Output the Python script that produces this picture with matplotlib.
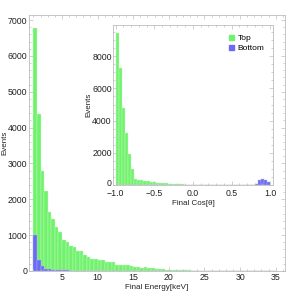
import numpy as np
import matplotlib
matplotlib.use('Agg')
import matplotlib.pyplot as plt
import matplotlib.transforms as mtrans
from matplotlib.ticker import MultipleLocator
from matplotlib.patches import Patch

plt.rcParams['font.family'] = ['Liberation Sans', 'DejaVu Sans']

# ---- data ----
# main histogram: final energy, 0.5 keV bins starting at 1 keV
energy_edges = np.arange(1.0, 35.01, 0.5)
energy_top = [6770, 4380, 2800, 2220, 1650, 1460, 1230, 1090, 860, 800,
              690, 660, 560, 560, 440, 400, 340, 340, 310, 310,
              260, 240, 240, 180, 165, 170, 160, 150, 110, 110,
              75, 100, 80, 70, 48, 45, 45, 30, 28, 25,
              25, 18, 15, 15, 12, 12, 10, 8, 8, 6,
              5, 4, 4, 3, 3, 2, 2, 1, 1, 1,
              0, 1, 0, 0, 0, 0, 0, 0]
energy_bottom = [1000, 320, 140, 65, 45, 35, 28, 22, 18, 14,
                 12, 10, 8, 7, 6, 5, 4, 3, 3, 2,
                 2, 1, 1] + [0] * 45

# inset histogram: final cos(theta), 0.04 bins from -1 to 1
cos_edges = np.linspace(-1.0, 1.0, 51)
cos_top = [9450, 7250, 4800, 3250, 1950, 970, 380, 330, 300, 270,
           230, 200, 180, 150, 130, 110, 95, 80, 65, 55,
           45, 35, 28, 20, 15, 12, 10, 8, 6, 5,
           4, 3, 3, 2, 2, 1] + [0] * 14
cos_bottom = [0] * 45 + [90, 280, 380, 340, 170]

green = '#70f26c'
blue = '#6a6af2'
frame = '#bdbdbd'
txt = '#222222'


def style_axes(ax, xmaj, xmin, ymaj, ymin):
    for s in ax.spines.values():
        s.set_color(frame)
        s.set_linewidth(0.6)
    ax.xaxis.set_major_locator(MultipleLocator(xmaj))
    ax.xaxis.set_minor_locator(MultipleLocator(xmin))
    ax.yaxis.set_major_locator(MultipleLocator(ymaj))
    ax.yaxis.set_minor_locator(MultipleLocator(ymin))
    ax.tick_params(which='both', direction='in', top=True, right=True,
                   color=frame, width=0.5, labelsize=6.3, labelcolor=txt, pad=1.2)
    ax.tick_params(which='major', length=3)
    ax.tick_params(which='minor', length=1.6)


fig = plt.figure(figsize=(3.0, 2.97), dpi=100)

# main plot
ax = fig.add_axes([29 / 300, 1 - 271 / 297, 256 / 300, 256 / 297])
ax.bar(energy_edges[:-1], energy_top, width=np.diff(energy_edges), align='edge',
       color=green, edgecolor='#c8f7c6', linewidth=0.3)
ax.bar(energy_edges[:-1], energy_bottom, width=np.diff(energy_edges), align='edge',
       color=blue, edgecolor='#b4b4f5', linewidth=0.3)
ax.set_xlim(0.37, 36.3)
ax.set_ylim(0, 7140)
style_axes(ax, 5, 1, 1000, 200)
ax.set_xlabel('Final Energy[keV]', fontsize=5.8, color=txt, labelpad=2)
ax.set_ylabel('Events', fontsize=5.8, color=txt)
ax.yaxis.set_label_coords(-0.082, 0.5)

# inset
ins = fig.add_axes([113.3 / 300, 1 - 185 / 297, 160 / 300, 160 / 297])
ins.bar(cos_edges[:-1], cos_top, width=np.diff(cos_edges), align='edge',
        color=green, edgecolor='#c8f7c6', linewidth=0.3)
ins.bar(cos_edges[:-1], cos_bottom, width=np.diff(cos_edges), align='edge',
        color=blue, edgecolor='#b4b4f5', linewidth=0.3)
ins.set_xlim(-1.03, 1.04)
ins.set_ylim(0, 9940)
style_axes(ins, 0.5, 0.1, 2000, 500)
ins.tick_params(axis='x', pad=2.8)
ins.set_xlabel('Final Cos[θ]', fontsize=5.8, color=txt, labelpad=1.2)
ins.set_ylabel('Events', fontsize=5.8, color=txt)
ins.yaxis.set_label_coords(-0.133, 0.5)

handles = [Patch(color=green, label='Top'), Patch(color=blue, label='Bottom')]
ins.legend(handles=handles, loc='upper left', bbox_to_anchor=(0.70, 0.96),
           frameon=False, fontsize=6, handlelength=0.6, handleheight=0.6,
           handletextpad=0.5, labelspacing=0.3, borderaxespad=0)

# lift the inset "0" label a little so it clears the "-1.0" below it
fig.canvas.draw()
lift = mtrans.ScaledTranslation(0, 2.0 / 72, fig.dpi_scale_trans)
for lbl in ins.get_yticklabels():
    if lbl.get_text() == '0':
        lbl.set_transform(lbl.get_transform() + lift)

fig.savefig('out.png', dpi=100)
